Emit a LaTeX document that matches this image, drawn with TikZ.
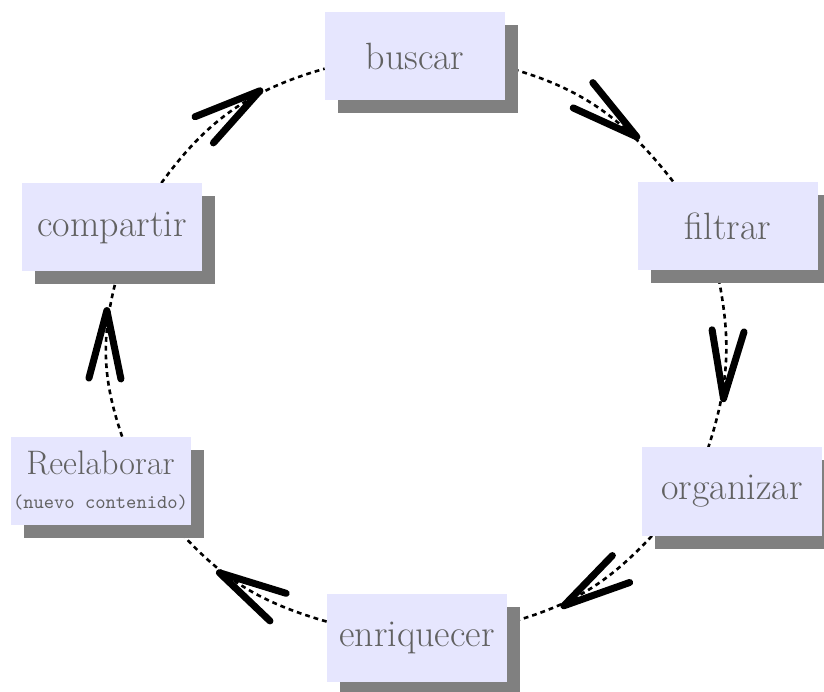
\documentclass[tikz,border=0pt]{standalone}
\usetikzlibrary{shadows,backgrounds,decorations.markings}

\definecolor{boxfill}{RGB}{230,230,254}
\definecolor{boxshade}{RGB}{128,128,128}

\begin{document}
\begin{tikzpicture}[x=0.5pt,y=0.5pt,
    paso/.style={fill=boxfill, minimum width=90pt, minimum height=44pt, inner sep=0pt,
      text=black!62, font=\fontsize{19}{22}\selectfont,
      drop shadow={shadow xshift=6.5pt, shadow yshift=-6.5pt, fill=boxshade, opacity=1}},
    flujo/.style={line width=1.3pt, dash pattern=on 2.4pt off 2pt, postaction={decorate},
      decoration={markings, mark=at position #1 with {\draw[solid, line width=3.5pt,
        line cap=round, line join=round] (-17pt,8pt) -- (17pt,0pt) -- (-17pt,-8pt);}}},
    flujo/.default=0.5]

    \useasboundingbox (0,0) rectangle (824,691);

    \node[paso] (buscar) at (415,635) {buscar};
    \node[paso] (filtrar) at (728,465) {filtrar};
    \node[paso] (organizar) at (732,199.5) {organizar};
    \node[paso] (enriquecer) at (417,53.5) {enriquecer};
    \node[paso, font=\fontsize{17}{17}\selectfont, align=center] (reelab) at (100.5,210)
      {Reelaborar\\[0pt]{\fontsize{9.8}{12}\ttfamily (nuevo contenido)}};
    \node[paso] (compartir) at (112,463.5) {compartir};

    \begin{scope}[on background layer]
    %buscar -> filtrar
    \draw[flujo=0.56] (buscar.-7) to[out=-15,in=128] (filtrar.141);
    %filtrar -> organizar
    \draw[flujo=0.53] (filtrar.-104) to[out=-78,in=72] (organizar.118);
    %organizar -> enriquecer
    \draw[flujo=0.46] (organizar.-151) to[out=-133,in=15.6] (enriquecer.9);
    %enriquecer -> reelab
    \draw[flujo=0.46] (enriquecer.170) to[out=164,in=-49] (reelab.-31);
    %reelab -> compartir
    \draw[flujo=0.56] (reelab.64) to[out=109,in=-105.5] (compartir.-82);
    %compartir -> buscar
    \draw[flujo] (compartir.42) to[out=54,in=-164] (buscar.-172);
    \end{scope}

  \end{tikzpicture}
\end{document}
